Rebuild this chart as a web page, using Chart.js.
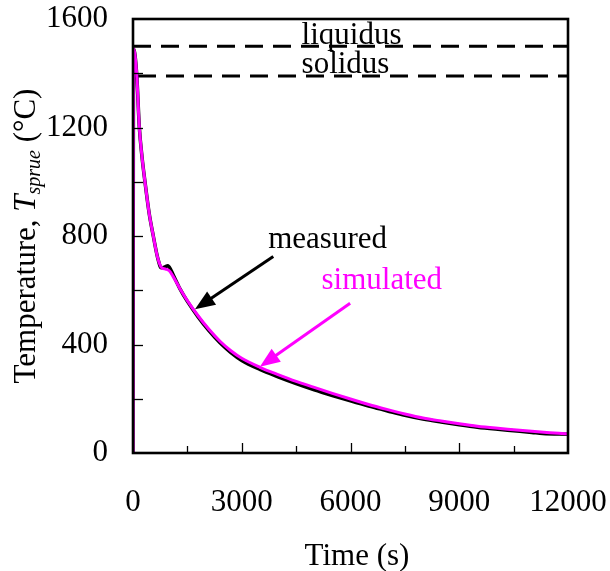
<!DOCTYPE html>
<html>
<head>
<meta charset="utf-8">
<script src="https://cdn.jsdelivr.net/npm/chart.js@4"></script>
<style>
	body { margin: 0; background: #fff; }
	canvas { display: block; }
</style>
</head>
<body>
<canvas id="chart" width="610" height="571"></canvas>
<script>
// temperature in the sprue
const simTime = [0, 15, 100, 175, 250, 330, 450, 560, 680, 780, 900, 1000, 1100, 1300, 1500, 1800, 2100, 2400, 2700, 3000, 3500, 4000, 4500, 5000, 5500, 6000, 6500, 7000, 7500, 8000, 8500, 9000, 9500, 10000, 10500, 11000, 11500, 12000];
const simTemp = [0, 1490, 1400, 1200, 1090, 1000, 880, 800, 720, 685, 678, 672, 652, 605, 562, 505, 455, 412, 377, 349, 316, 289, 264, 242, 220, 199, 179, 161, 144, 129, 118, 108, 99, 92, 86, 80, 75, 70];

const measTime = [0, 15, 100, 175, 250, 330, 450, 560, 680, 780, 880, 960, 1040, 1150, 1300, 1500, 1800, 2100, 2400, 2700, 3000, 3500, 4000, 4500, 5000, 5500, 6000, 6500, 7000, 7500, 8000, 8500, 9000, 9500, 10000, 10500, 11000, 11300, 12000];
const measTemp = [0, 1490, 1400, 1200, 1090, 1000, 880, 800, 720, 683, 686, 690, 676, 645, 604, 559, 501, 450, 406, 370, 341, 308, 281, 256, 233, 212, 192, 173, 156, 139, 125, 114, 104, 95, 88, 82, 76, 72, 69];

const liquidusTemp = 1500;
const solidusTemp = 1390;
const lineTimes = [0, 12000];

const xMax = 12000;
const yMax = 1600;

const serif = '"Liberation Serif", "Times New Roman", serif';

const notes = [
	{ text: 'liquidus', t: 4650, v: 1508, color: '#000' },
	{ text: 'solidus', t: 4650, v: 1400, color: '#000' },
	{ text: 'measured', t: 3730, v: 755, color: '#000' },
	{ text: 'simulated', t: 5200, v: 605, color: '#ff00ff' },
];

const arrows = [
	{ from: [3870, 724], to: [1710, 530], color: '#000' },
	{ from: [5990, 552], to: [3500, 318], color: '#ff00ff' },
];

const toPoints = (xs, ys) => xs.map((x, i) => ({ x: x, y: ys[i] }));

const decorations = {
	id: 'decorations',
	afterDatasetsDraw(chart) {
		const ctx = chart.ctx;
		const area = chart.chartArea;
		const xs = chart.scales.x;
		const ys = chart.scales.y;
		ctx.save();

		// inner tick marks
		ctx.strokeStyle = '#000';
		ctx.lineWidth = 1.3;
		for (let tick of xs.ticks) {
			if (tick.value <= 0 || tick.value >= xMax) continue;
			let px = Math.round(xs.getPixelForValue(tick.value)) + 0.5;
			let len = tick.value % 3000 === 0 ? 10 : 7;
			ctx.beginPath();
			ctx.moveTo(px, area.bottom);
			ctx.lineTo(px, area.bottom - len);
			ctx.stroke();
		}
		for (let tick of ys.ticks) {
			if (tick.value <= 0 || tick.value >= yMax) continue;
			let py = Math.round(ys.getPixelForValue(tick.value)) + 0.5;
			ctx.beginPath();
			ctx.moveTo(area.left, py);
			ctx.lineTo(area.left + 10, py);
			ctx.stroke();
		}

		// frame
		ctx.lineWidth = 2.6;
		ctx.strokeRect(area.left, area.top, area.right - area.left, area.bottom - area.top);

		// arrows
		for (let a of arrows) {
			let x1 = xs.getPixelForValue(a.from[0]);
			let y1 = ys.getPixelForValue(a.from[1]);
			let x2 = xs.getPixelForValue(a.to[0]);
			let y2 = ys.getPixelForValue(a.to[1]);
			let ang = Math.atan2(y2 - y1, x2 - x1);
			let head = 20;
			let half = 8;
			let bx = x2 - head * Math.cos(ang);
			let by = y2 - head * Math.sin(ang);
			ctx.strokeStyle = a.color;
			ctx.fillStyle = a.color;
			ctx.lineWidth = 3;
			ctx.beginPath();
			ctx.moveTo(x1, y1);
			ctx.lineTo(bx + 4 * Math.cos(ang), by + 4 * Math.sin(ang));
			ctx.stroke();
			ctx.beginPath();
			ctx.moveTo(x2, y2);
			ctx.lineTo(bx - half * Math.sin(ang), by + half * Math.cos(ang));
			ctx.lineTo(bx + half * Math.sin(ang), by - half * Math.cos(ang));
			ctx.closePath();
			ctx.fill();
		}

		// text notes
		ctx.font = '31px ' + serif;
		ctx.textAlign = 'left';
		ctx.textBaseline = 'alphabetic';
		for (let n of notes) {
			ctx.fillStyle = n.color;
			ctx.fillText(n.text, xs.getPixelForValue(n.t), ys.getPixelForValue(n.v));
		}

		// x title
		ctx.fillStyle = '#000';
		ctx.textAlign = 'center';
		ctx.fillText('Time (s)', 357, 565);

		// y title with italic subscript
		const parts = [
			{ s: 'Temperature, ', font: '31px ' + serif, dy: 0 },
			{ s: 'T', font: 'italic 31px ' + serif, dy: 0 },
			{ s: 'sprue', font: 'italic 20px ' + serif, dy: 5 },
			{ s: ' (\u00B0C)', font: '31px ' + serif, dy: 0 },
		];
		let total = 0;
		for (let p of parts) {
			ctx.font = p.font;
			p.w = ctx.measureText(p.s).width;
			total += p.w;
		}
		ctx.translate(35, (area.top + area.bottom) / 2);
		ctx.rotate(-Math.PI / 2);
		ctx.textAlign = 'left';
		let cx = -total / 2;
		for (let p of parts) {
			ctx.font = p.font;
			ctx.fillText(p.s, cx, p.dy);
			cx += p.w;
		}
		ctx.restore();
	},
};

new Chart(document.getElementById('chart'), {
	type: 'line',
	data: {
		datasets: [
			{
				label: 'simulated',
				data: toPoints(simTime, simTemp),
				borderColor: '#ff00ff',
				borderWidth: 3,
				pointRadius: 0,
				cubicInterpolationMode: 'monotone',
				order: 1,
			},
			{
				label: 'measured',
				data: toPoints(measTime, measTemp),
				borderColor: '#000',
				borderWidth: 3.5,
				pointRadius: 0,
				cubicInterpolationMode: 'monotone',
				order: 2,
			},
			{
				label: 'liquidus',
				data: toPoints(lineTimes, [liquidusTemp, liquidusTemp]),
				borderColor: '#000',
				borderWidth: 3,
				borderDash: [18, 10],
				pointRadius: 0,
				order: 3,
			},
			{
				label: 'solidus',
				data: toPoints(lineTimes, [solidusTemp, solidusTemp]),
				borderColor: '#000',
				borderWidth: 3,
				borderDash: [18, 10],
				borderDashOffset: -5,
				pointRadius: 0,
				order: 3,
			},
		],
	},
	options: {
		responsive: false,
		animation: false,
		layout: { autoPadding: false, padding: { left: 0, right: 42, top: 19, bottom: 0 } },
		plugins: {
			legend: { display: false },
			tooltip: { enabled: false },
		},
		scales: {
			x: {
				type: 'linear',
				min: 0,
				max: xMax,
				grid: { display: false, drawTicks: false },
				border: { display: false },
				afterFit: (scale) => {
					scale.height = 118;
					scale.paddingLeft = 0;
					scale.paddingRight = 0;
				},
				ticks: {
					stepSize: 1500,
					autoSkip: false,
					maxRotation: 0,
					padding: 31,
					color: '#000',
					font: { family: serif, size: 31 },
					callback: (v) => (v % 3000 === 0 ? String(v) : ''),
				},
			},
			y: {
				min: 0,
				max: yMax,
				grid: { display: false, drawTicks: false },
				border: { display: false },
				afterFit: (scale) => {
					scale.width = 133;
					scale.paddingTop = 0;
					scale.paddingBottom = 0;
				},
				ticks: {
					stepSize: 200,
					autoSkip: false,
					padding: 25,
					color: '#000',
					font: { family: serif, size: 31 },
					callback: (v) => (v % 400 === 0 ? String(v) : ''),
				},
			},
		},
	},
	plugins: [decorations],
});
</script>
</body>
</html>
